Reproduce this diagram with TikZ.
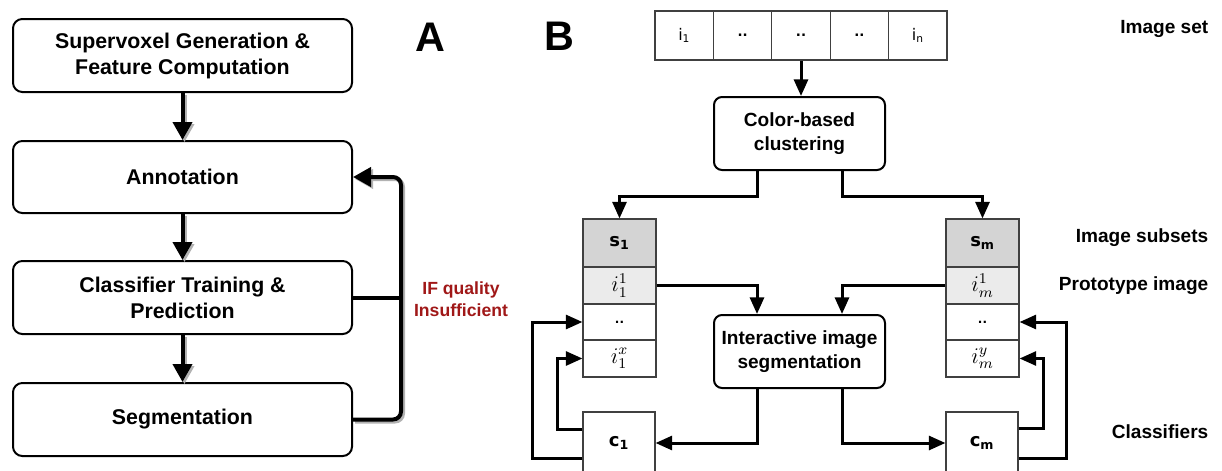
\documentclass[tikz,border=0pt]{standalone}
\usepackage{fontspec}
\setmainfont{Liberation Sans}
\newfontfamily\dejavu{DejaVu Sans}
\usetikzlibrary{arrows.meta,calc}
\definecolor{darkred}{HTML}{A01818}
\newcommand{\mth}[1]{\scalebox{1.4}{$#1$}}
\begin{document}
\begin{tikzpicture}[x=0.75pt,y=-0.75pt,
  boxA/.style={draw, line width=1.5pt, rounded corners=7pt, minimum width=254.25pt, minimum height=54.75pt, inner sep=0pt, align=center, font=\bfseries\fontsize{16}{19.5}\selectfont},
  boxB/.style={draw, line width=1.5pt, rounded corners=6pt, minimum width=128.25pt, minimum height=54.75pt, inner sep=0pt, align=center, font=\bfseries\fontsize{14.3}{18.5}\selectfont},
  cell/.style={draw=black!75, line width=0.8pt, minimum width=43.8pt, minimum height=36.75pt, inner sep=0pt, font=\dejavu\fontsize{12}{14}\selectfont},
  colcell/.style={draw=black!75, line width=0.8pt, minimum width=54.75pt, inner sep=0pt, font=\large},
  bcell/.style={font=\dejavu\bfseries\fontsize{13.5}{16}\selectfont},
  lab/.style={anchor=east, font=\bfseries\fontsize{14.3}{17}\selectfont},
  big/.style={font=\bfseries\fontsize{31}{34}\selectfont},
  shadow/.style={preaction={draw=black!30, line width=3pt, transform canvas={shift={(1.5pt,-1.5pt)}}}},
  arrA/.style={line width=3pt, -{Triangle[length=13.5pt,width=14.25pt]}},
  arrB/.style={line width=2.25pt, -{Triangle[length=12.5pt,width=10.5pt]}}
]
\useasboundingbox (0,0) rectangle (1222,471);

% ---------- Panel A ----------
\node[boxA] (b1) at (182.5,55.5) {Supervoxel Generation \&\\Feature Computation};
\node[boxA, minimum height=54pt] (b2) at (182.5,177) {Annotation};
\node[boxA] (b3) at (182.5,297.5) {Classifier Training \&\\Prediction};
\node[boxA] (b4) at (182.5,419.5) {Segmentation};
\node[big] (A) at (430,37) {A};

\draw[arrA, shadow] (b1.south) -- (b2.north);
\draw[arrA, shadow] (b2.south) -- (b3.north);
\draw[arrA, shadow] (b3.south) -- (b4.north);
\draw[arrA, shadow, rounded corners=6pt] (b4.east) -- ++(48,0) |- (b2.east);
\draw[line width=3pt] (b3.east) -- ++(48,0);
\node[align=center, text=darkred, font=\bfseries\fontsize{13.2}{16.5}\selectfont] (cond) at (461,299) {IF quality\\Insufficient};

% ---------- Panel B ----------
\node[big] (B) at (559,36) {B};
\node[cell] (c1) at (684.2,35.5) {i\textsubscript{1}};
\node[cell, font=\dejavu\bfseries] (c2) at (742.6,35.5) {..};
\node[cell, font=\dejavu\bfseries] (c3) at (801,35.5) {..};
\node[cell, font=\dejavu\bfseries] (c4) at (859.4,35.5) {..};
\node[cell] (c5) at (917.8,35.5) {i\textsubscript{n}};

\node[boxB] (col) at (799.5,133.5) {Color-based\\clustering};
\node[boxB] (iis) at (799.5,351.5) {Interactive image\\segmentation};

% left column
\node[colcell, bcell, fill=black!17, minimum height=36pt] (s1) at (619.5,243) {s\textsubscript{1}};
\node[colcell, fill=black!8, minimum height=27.75pt] (p1) at (619.5,285.5) {\mth{i_1^1}};
\node[colcell, minimum height=27pt, font=\dejavu\bfseries\small] (d1) at (619.5,322) {..};
\node[colcell, minimum height=27.75pt] (x1) at (619.5,358.5) {\mth{i_1^x}};
% right column
\node[colcell, bcell, fill=black!17, minimum height=36pt] (sm) at (982.5,243) {s\textsubscript{m}};
\node[colcell, fill=black!8, minimum height=27.75pt] (pm) at (982.5,285.5) {\mth{i_m^1}};
\node[colcell, minimum height=27pt, font=\dejavu\bfseries\small] (dm) at (982.5,322) {..};
\node[colcell, minimum height=27.75pt] (ym) at (982.5,358.5) {\mth{i_m^y}};
% classifiers
\node[colcell, bcell, minimum width=54pt, minimum height=46.5pt] (k1) at (619,443) {c\textsubscript{1}};
\node[colcell, bcell, minimum width=54pt, minimum height=46.5pt] (km) at (982,443) {c\textsubscript{m}};

% labels
\node[lab] (l1) at (1213,29) {Image set};
\node[lab] (l2) at (1213,238) {Image subsets};
\node[lab] (l3) at (1213,286) {Prototype image};
\node[lab] (l4) at (1213,432) {Classifiers};

% connectors
\draw[arrB] (c3.south) -- (c3.south |- col.north);
\draw[arrB] ($(col.south)+(-42.5,0)$) -- ++(0,25) -| (s1.north);
\draw[arrB] ($(col.south)+(42.5,0)$) -- ++(0,25) -| (sm.north);
\draw[arrB] (p1.east) -| ($(iis.north)+(-42.5,0)$);
\draw[arrB] (pm.west) -| ($(iis.north)+(42.5,0)$);
\draw[arrB] ($(iis.south)+(-42.5,0)$) |- (k1.east);
\draw[arrB] ($(iis.south)+(42.5,0)$) |- (km.west);
\draw[arrB] ($(k1.west)+(0,-14)$) -- ++(-25,0) |- (x1.west);
\draw[arrB] ($(k1.west)+(0,15)$) -- ++(-50,0) |- (d1.west);
\draw[arrB] ($(km.east)+(0,-15)$) -- ++(25,0) |- (ym.east);
\draw[arrB] ($(km.east)+(0,15)$) -- ++(48,0) |- (dm.east);
\end{tikzpicture}
\end{document}
